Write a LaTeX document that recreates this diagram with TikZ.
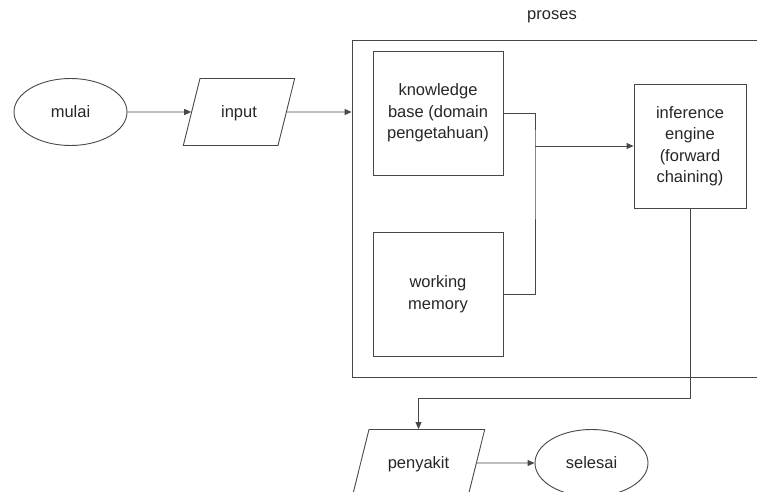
\documentclass[tikz,border=0pt]{standalone}
\usepackage{fontspec}
\setmainfont{Liberation Sans}
\usetikzlibrary{shapes.geometric,arrows.meta}
\newcommand{\linecolor}{black!72}
\newcommand{\inkcolor}{black!85}
\newcommand{\boxfont}{\fontsize{16.5}{21.5}\selectfont}

\begin{document}
\begin{tikzpicture}[x=1pt,y=-1pt,
  every node/.style={font=\boxfont, text=\inkcolor},
  terminal/.style={draw=\linecolor, line width=0.9pt, ellipse, minimum width=113pt, minimum height=67pt, inner sep=0pt},
  data/.style={draw=\linecolor, line width=0.9pt, trapezium, trapezium left angle=76, trapezium right angle=104, align=center, text height=15pt, text depth=3.5pt, inner xsep=0pt, inner ysep=24.25pt},
  unit/.style={draw=\linecolor, line width=0.9pt, align=center, minimum height=124pt, inner sep=0pt},
  flow/.style={draw=\linecolor, line width=0.9pt, -{Triangle[length=7pt,width=6pt]}},
  wire/.style={draw=\linecolor, line width=0.9pt}]
\useasboundingbox (0,0) rectangle (757,492);
\clip (0,0) rectangle (757,492);
%start and input
\node[terminal] (mulai) at (70.5,112) {mulai};
\node[data, text width=78pt] (input) at (239,112) {input};
%proses
\node[draw=\linecolor, line width=0.9pt, minimum width=420pt, minimum height=337pt] (proses) at (562,208.5) {};
\node (proses label) at (552,17) {proses};
\node[unit, minimum width=130pt] (kb) at (438,113) {knowledge\\base (domain\\pengetahuan)};
\node[unit, minimum width=130pt] (wm) at (438,294) {working\\memory};
\node[unit, minimum width=112pt] (ie) at (690,146) {inference\\engine\\(forward\\chaining)};
%output and end
\node[data, text width=99pt] (penyakit) at (418.5,463) {penyakit};
\node[terminal] (selesai) at (591.5,463) {selesai};
%connectors
\coordinate (merge) at (535,146);
\draw[flow] (mulai) -- (input);
\draw[flow] (input) -- (input -| proses.west);
\draw[wire] (kb.east) -| (merge) |- (wm.east);
\draw[flow] (merge) -- (merge -| ie.west);
\draw[flow] (ie.south) -- (ie.south |- 0,398) -| (penyakit.north);
\draw[flow] (penyakit) -- (selesai);
\end{tikzpicture}
\end{document}
